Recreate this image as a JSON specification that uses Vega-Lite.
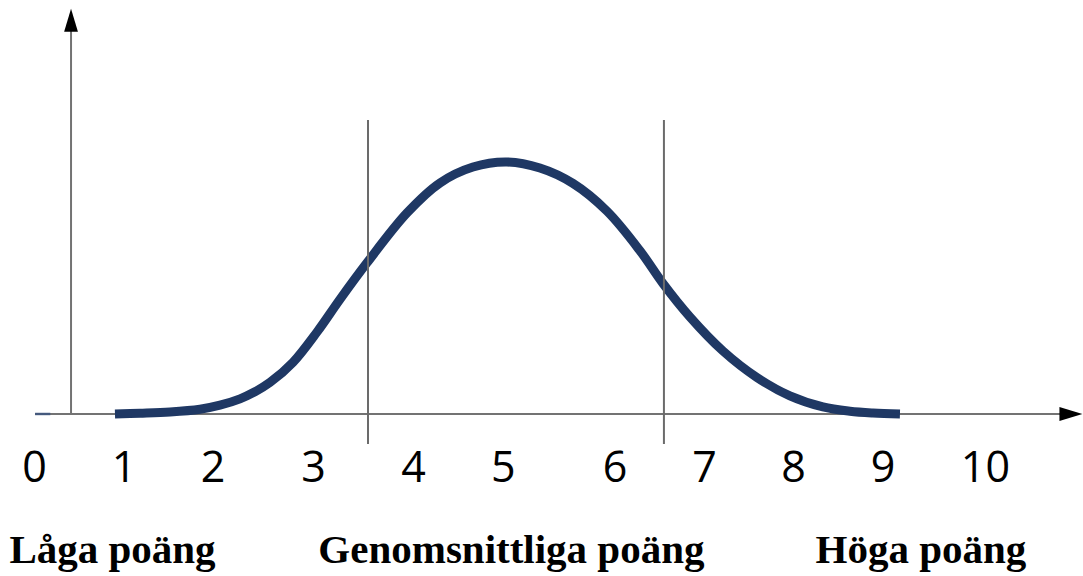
{
  "$schema": "https://vega.github.io/schema/vega-lite/v6.json",
  "width": 1083,
  "height": 576,
  "autosize": {"type": "fit", "contains": "padding"},
  "padding": 0,
  "background": "white",
  "config": {"view": {"stroke": null}},
  "layer": [
    {
      "data": {"values": [{"x1": -0.021, "x2": 10.76, "y": 0}]},
      "mark": {"type": "rule", "color": "#737373", "strokeWidth": 2},
      "encoding": {
        "x": {"field": "x1", "type": "quantitative", "scale": {"domain": [-0.389, 11.0], "nice": false, "zero": false}, "axis": null},
        "x2": {"field": "x2"},
        "y": {"field": "y", "type": "quantitative", "scale": {"domain": [-0.643, 1.643], "nice": false, "zero": false}, "axis": null}
      }
    },
    {
      "data": {"values": [{"x1": -0.02, "x2": 0.14, "y": 0}]},
      "mark": {"type": "rule", "color": "#3a5280", "strokeWidth": 2.5, "opacity": 0.8},
      "encoding": {
        "x": {"field": "x1", "type": "quantitative"},
        "x2": {"field": "x2"},
        "y": {"field": "y", "type": "quantitative"}
      }
    },
    {
      "data": {"values": [{"x": 0.358, "y1": 0, "y2": 1.53}]},
      "mark": {"type": "rule", "color": "#737373", "strokeWidth": 2},
      "encoding": {
        "x": {"field": "x", "type": "quantitative"},
        "y": {"field": "y1", "type": "quantitative"},
        "y2": {"field": "y2"}
      }
    },
    {
      "data": {"values": [
        {"s": 0.82, "d": 0},
        {"s": 1.083, "d": 0.003},
        {"s": 1.399, "d": 0.008},
        {"s": 1.714, "d": 0.019},
        {"s": 1.924, "d": 0.035},
        {"s": 2.135, "d": 0.06},
        {"s": 2.292, "d": 0.088},
        {"s": 2.45, "d": 0.125},
        {"s": 2.692, "d": 0.205},
        {"s": 2.944, "d": 0.325},
        {"s": 3.186, "d": 0.455},
        {"s": 3.47, "d": 0.6},
        {"s": 3.891, "d": 0.798},
        {"s": 4.238, "d": 0.917},
        {"s": 4.585, "d": 0.98},
        {"s": 4.942, "d": 1.0},
        {"s": 5.289, "d": 0.976},
        {"s": 5.636, "d": 0.915},
        {"s": 5.994, "d": 0.805},
        {"s": 6.341, "d": 0.648},
        {"s": 6.583, "d": 0.518},
        {"s": 6.867, "d": 0.385},
        {"s": 7.214, "d": 0.25},
        {"s": 7.571, "d": 0.145},
        {"s": 7.918, "d": 0.072},
        {"s": 8.265, "d": 0.028},
        {"s": 8.549, "d": 0.011},
        {"s": 8.791, "d": 0.004},
        {"s": 9.075, "d": 0}
      ]},
      "mark": {"type": "line", "color": "#1f3864", "strokeWidth": 9, "interpolate": "catmull-rom", "strokeCap": "butt"},
      "encoding": {
        "x": {"field": "s", "type": "quantitative"},
        "y": {"field": "d", "type": "quantitative"}
      }
    },
    {
      "data": {"values": [{"x": 3.481, "y1": -0.119, "y2": 1.167}, {"x": 6.593, "y1": -0.119, "y2": 1.167}]},
      "mark": {"type": "rule", "color": "#6b6b6b", "strokeWidth": 2},
      "encoding": {
        "x": {"field": "x", "type": "quantitative"},
        "y": {"field": "y1", "type": "quantitative"},
        "y2": {"field": "y2"}
      }
    },
    {
      "data": {"values": [{"x": 10.873, "y": 0}]},
      "mark": {"type": "point", "shape": "M1,0L-1,-0.6L-1,0.6Z", "size": 529, "filled": true, "color": "#000000", "opacity": 1},
      "encoding": {
        "x": {"field": "x", "type": "quantitative"},
        "y": {"field": "y", "type": "quantitative"}
      }
    },
    {
      "data": {"values": [{"x": 0.358, "y": 1.563}]},
      "mark": {"type": "point", "shape": "M0,-1L0.6,1L-0.6,1Z", "size": 529, "filled": true, "color": "#000000", "opacity": 1},
      "encoding": {
        "x": {"field": "x", "type": "quantitative"},
        "y": {"field": "y", "type": "quantitative"}
      }
    },
    {
      "data": {"values": [
        {"x": -0.026, "label": "0"},
        {"x": 0.915, "label": "1"},
        {"x": 1.851, "label": "2"},
        {"x": 2.907, "label": "3"},
        {"x": 3.959, "label": "4"},
        {"x": 4.905, "label": "5"},
        {"x": 6.078, "label": "6"},
        {"x": 7.019, "label": "7"},
        {"x": 7.955, "label": "8"},
        {"x": 8.896, "label": "9"},
        {"x": 9.974, "label": "10"}
      ]},
      "mark": {"type": "text", "font": "Open Sans", "fontSize": 43, "color": "#000000", "baseline": "alphabetic", "align": "center"},
      "encoding": {
        "x": {"field": "x", "type": "quantitative"},
        "y": {"datum": -0.27, "type": "quantitative"},
        "text": {"field": "label"}
      }
    },
    {
      "data": {"values": [
        {"x": 0.794, "label": "Låga poäng"},
        {"x": 4.989, "label": "Genomsnittliga poäng"},
        {"x": 9.295, "label": "Höga poäng"}
      ]},
      "mark": {"type": "text", "font": "Liberation Serif", "fontWeight": "bold", "fontSize": 41, "color": "#000000", "baseline": "alphabetic", "align": "center"},
      "encoding": {
        "x": {"field": "x", "type": "quantitative"},
        "y": {"datum": -0.591, "type": "quantitative"},
        "text": {"field": "label"}
      }
    }
  ]
}
